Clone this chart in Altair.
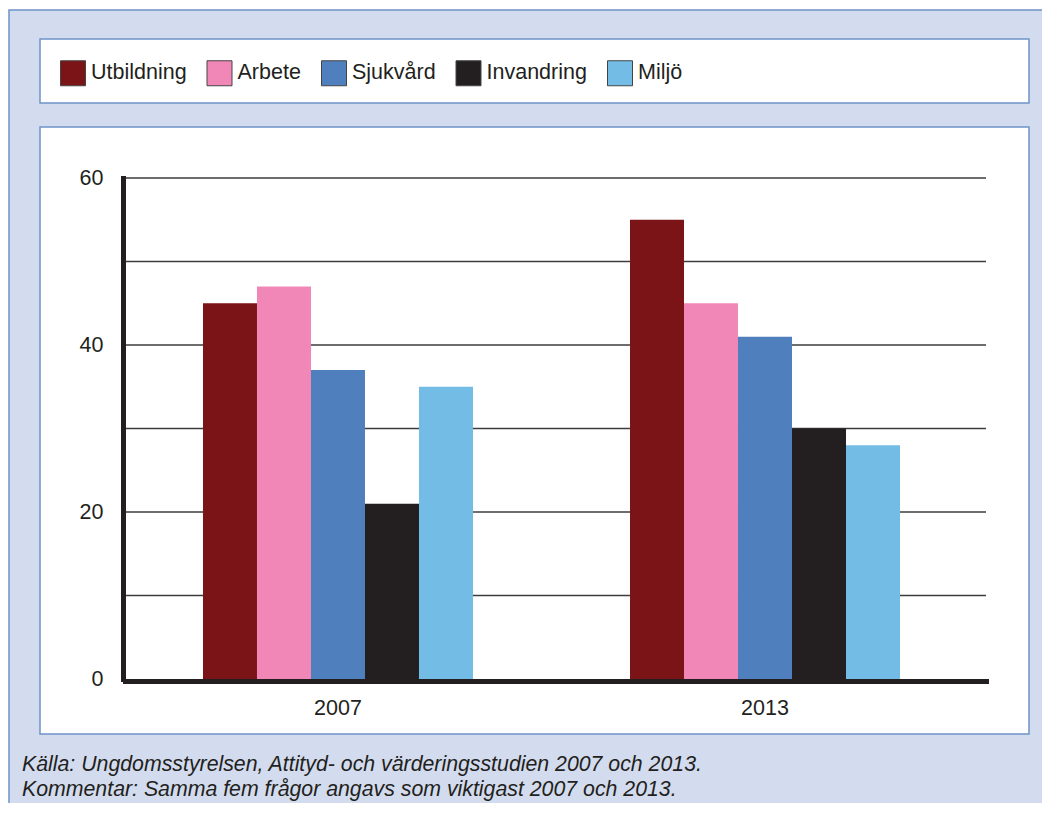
import altair as alt
import pandas as pd

# ---- data ----
years = ["2007", "2013"]
categories = ["Utbildning", "Arbete", "Sjukvård", "Invandring", "Miljö"]
values_2007 = [45, 47, 37, 21, 35]
values_2013 = [55, 45, 41, 30, 28]
colors = ["#7b1416", "#f087b7", "#4f7fbd", "#231f20", "#72bce6"]
y_ticks = [0, 20, 40, 60]
grid_values = [10, 20, 30, 40, 50, 60]
footnotes = [
    "Källa: Ungdomsstyrelsen, Attityd- och värderingsstudien 2007 och 2013.",
    "Kommentar: Samma fem frågor angavs som viktigast 2007 och 2013.",
]

rows = []
for yr, vals in zip(years, [values_2007, values_2013]):
    for c, v in zip(categories, vals):
        rows.append({"year": yr, "category": c, "value": v})
df = pd.DataFrame(rows)

FONT = "Liberation Sans"
TEXT_COLOR = "#231f20"
BORDER = "#6f93c8"
BG = "#d3dcee"

one = pd.DataFrame({"k": [0]})

# decorative frames (pixel positions relative to plot origin)
outer = alt.Chart(one).mark_rect(fill=BG, stroke=BORDER, strokeWidth=1.5).encode(
    x=alt.value(-116), x2=alt.value(1200), y=alt.value(-168), y2=alt.value(900)
)
legend_box = alt.Chart(one).mark_rect(fill="white", stroke=BORDER, strokeWidth=1.5).encode(
    x=alt.value(-85), x2=alt.value(904), y=alt.value(-139), y2=alt.value(-75)
)
plot_box = alt.Chart(one).mark_rect(fill="white", stroke=BORDER, strokeWidth=1.5).encode(
    x=alt.value(-85), x2=alt.value(904), y=alt.value(-51), y2=alt.value(556)
)

y_scale = alt.Scale(domain=[0, 60], nice=False)
y_axis = alt.Axis(
    title=None, values=y_ticks, grid=False, ticks=False, tickSize=0,
    labelPadding=20, labelFontSize=21.5, labelFont=FONT,
    labelColor=TEXT_COLOR, domainColor=TEXT_COLOR, domainWidth=5,
    offset=2, zindex=2, domainCap="square",
)

grid = alt.Chart(pd.DataFrame({"value": grid_values})).mark_rule(
    color="#3c3c3c", strokeWidth=1.3
).encode(y=alt.Y("value:Q", scale=y_scale, axis=y_axis))

bars = alt.Chart(df).mark_bar().encode(
    x=alt.X(
        "year:N",
        sort=years,
        scale=alt.Scale(paddingInner=0.3677, paddingOuter=0.192, align=0.4756),
        axis=alt.Axis(
            title=None, labelAngle=0, ticks=False, tickSize=0, labelPadding=16,
            labelFontSize=21.5, labelFont=FONT, labelColor=TEXT_COLOR,
            domainColor=TEXT_COLOR, domainWidth=5, offset=2, zindex=2,
            domainCap="square",
        ),
    ),
    xOffset=alt.XOffset("category:N", sort=categories,
                        scale=alt.Scale(paddingInner=0, paddingOuter=0)),
    y=alt.Y("value:Q", scale=y_scale, axis=y_axis),
    color=alt.Color(
        "category:N",
        sort=categories,
        scale=alt.Scale(domain=categories, range=colors),
        legend=alt.Legend(
            title=None, orient="none", legendX=-65, legendY=-118,
            direction="horizontal", columns=5, symbolType="square",
            symbolSize=625, symbolStrokeColor="#444444", symbolStrokeWidth=1,
            symbolOpacity=1,
            labelFontSize=21.5, labelFont=FONT, labelColor=TEXT_COLOR,
            labelOffset=5, columnPadding=17.5, padding=0,
        ),
    ),
)

foot1 = alt.Chart(one).mark_text(
    text=footnotes[0], align="left", baseline="alphabetic", font=FONT,
    fontSize=21.3, fontStyle="italic", color=TEXT_COLOR,
).encode(x=alt.value(-103), y=alt.value(593))
foot2 = alt.Chart(one).mark_text(
    text=footnotes[1], align="left", baseline="alphabetic", font=FONT,
    fontSize=21.3, fontStyle="italic", color=TEXT_COLOR,
).encode(x=alt.value(-103), y=alt.value(618))

chart = alt.layer(outer, legend_box, plot_box, grid, bars, foot1, foot2).properties(
    width=861,
    height=501,
    padding={"left": 117, "top": 170, "right": 56, "bottom": 124},
    autosize=alt.AutoSizeParams(type="none"),
    background="white",
).configure_view(stroke=None)

chart.save("out.html", embed_options={"renderer": "svg", "actions": False})
